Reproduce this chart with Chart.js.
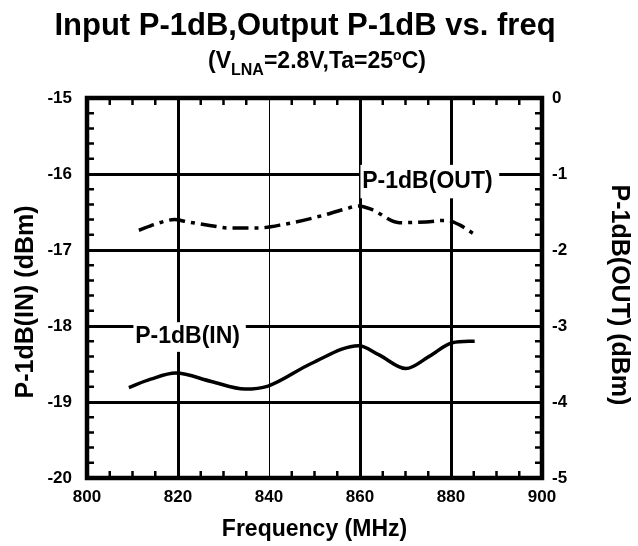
<!DOCTYPE html>
<html>
<head>
<meta charset="utf-8">
<script src="https://cdn.jsdelivr.net/npm/chart.js@4"></script>
<style>
	body { margin: 0; background: #fff; }
	#wrap { position: relative; width: 638px; height: 546px; font-family: "Liberation Sans", Arial, sans-serif; }
	.title { position: absolute; left: 0; width: 610px; text-align: center; font-weight: bold; color: #000; line-height: 1; white-space: nowrap; }
	#main { top: 9px; font-size: 31px; }
	#sub { top: 48px; left: 12px; font-size: 23px; }
	#sub sub { font-size: 16px; vertical-align: -7px; }
	#sub sup { font-size: 14px; vertical-align: 8px; }
</style>
</head>
<body>
<div id="wrap">
	<canvas id="chart" width="638" height="546"></canvas>
	<div class="title" id="main">Input P-1dB,Output P-1dB vs. freq</div>
	<div class="title" id="sub">(V<sub>LNA</sub>=2.8V,Ta=25<sup>o</sup>C)</div>
</div>
<script>
// P-1dB(IN), left axis (dBm)
const freqIn = [809.2, 814, 819.5, 827.3, 834.7, 839.8, 849.4, 859.7, 864.2, 870.1, 875.2, 880.3, 885.2];
const pIn = [-18.81, -18.70, -18.62, -18.73, -18.83, -18.79, -18.49, -18.26, -18.38, -18.56, -18.40, -18.22, -18.20];

// P-1dB(OUT), right axis (dBm)
const freqOut = [811.4, 815, 819.2, 822.1, 827.3, 831, 837.6, 843.5, 850.9, 856.8, 859.7, 862.7, 868.6, 874.5, 878.9, 881.9, 884.8];
const pOut = [-1.74, -1.66, -1.60, -1.63, -1.68, -1.71, -1.71, -1.66, -1.56, -1.46, -1.42, -1.47, -1.64, -1.63, -1.61, -1.67, -1.78];

const xTicks = [800, 820, 840, 860, 880, 900];

const FONT = "'Liberation Sans', Arial, sans-serif";

// curve labels, placed in data units
const curveLabels = [
	{ text: "P-1dB(OUT)", x: 860.5, y: -1.105, axis: "y2", box: [860.1, 890.6, -0.88, -1.32] },
	{ text: "P-1dB(IN)", x: 810.6, y: -18.145, axis: "y", box: [810.2, 834.9, -17.95, -18.34] }
];

function toPoints(xs, ys) {
	return xs.map((x, i) => ({ x: x, y: ys[i] }));
}

function sideTitle(c, text, x, y, rot) {
	c.save();
	c.translate(x, y);
	c.rotate(rot);
	c.fillStyle = "#000";
	c.font = "bold 25px " + FONT;
	c.textAlign = "center";
	c.textBaseline = "middle";
	c.fillText(text, 0, 0);
	c.restore();
}

const framePlugin = {
	id: "frame",
	afterDatasetsDraw(chart) {
		const c = chart.ctx;
		const xs = chart.scales.x;
		c.save();
		// white boxes behind the curve labels, then the text
		curveLabels.forEach(l => {
			const ys = chart.scales[l.axis];
			const x0 = xs.getPixelForValue(l.box[0]), x1 = xs.getPixelForValue(l.box[1]);
			const y0 = ys.getPixelForValue(l.box[2]), y1 = ys.getPixelForValue(l.box[3]);
			c.fillStyle = "#fff";
			c.fillRect(x0, y0, x1 - x0, y1 - y0);
			c.fillStyle = "#000";
			c.font = "bold 23px " + FONT;
			c.textBaseline = "middle";
			c.textAlign = "left";
			c.fillText(l.text, xs.getPixelForValue(l.x), ys.getPixelForValue(l.y));
		});
		c.restore();
	},
	afterDraw(chart) {
		const c = chart.ctx;
		const a = chart.chartArea;
		const xs = chart.scales.x, ys = chart.scales.y;
		c.save();
		c.strokeStyle = "#000";
		// inward minor ticks
		c.lineWidth = 2.5;
		c.beginPath();
		for (let f = 805; f < 900; f += 5) {
			if (f % 20 === 0) continue;
			const px = xs.getPixelForValue(f);
			c.moveTo(px, a.top); c.lineTo(px, a.top + 7);
			c.moveTo(px, a.bottom); c.lineTo(px, a.bottom - 7);
		}
		for (let v = -19.8; v < -15; v += 0.2) {
			if (Math.abs(v - Math.round(v)) < 0.01) continue;
			const py = ys.getPixelForValue(v);
			c.moveTo(a.left, py); c.lineTo(a.left + 7, py);
			c.moveTo(a.right, py); c.lineTo(a.right - 7, py);
		}
		c.stroke();
		c.lineWidth = 4.5;
		c.strokeRect(a.left, a.top, a.right - a.left, a.bottom - a.top);
		c.restore();
		sideTitle(c, "P-1dB(IN) (dBm)", 26, 302, -Math.PI / 2);
		sideTitle(c, "P-1dB(OUT) (dBm)", 619, 295, Math.PI / 2);
	}
};

new Chart(document.getElementById("chart"), {
	type: "line",
	data: {
		datasets: [
			{
				label: "P-1dB(IN)",
				data: toPoints(freqIn, pIn),
				yAxisID: "y",
				borderColor: "#000",
				borderWidth: 3.5,
				pointRadius: 0,
				cubicInterpolationMode: "monotone"
			},
			{
				label: "P-1dB(OUT)",
				data: toPoints(freqOut, pOut),
				yAxisID: "y2",
				borderColor: "#000",
				borderWidth: 3.5,
				borderDash: [16, 6, 4, 6],
				pointRadius: 0,
				cubicInterpolationMode: "monotone"
			}
		]
	},
	options: {
		responsive: false,
		animation: false,
		layout: { padding: { top: 98, left: 0, right: 0, bottom: 0 } },
		plugins: {
			legend: { display: false },
			tooltip: { enabled: false }
		},
		scales: {
			x: {
				type: "linear",
				min: 800,
				max: 900,
				afterBuildTicks: s => { s.ticks = xTicks.map(v => ({ value: v })); },
				afterFit: s => { s.height = 68; },
				grid: {
					color: "#000",
					lineWidth: ctx => (ctx.tick && ctx.tick.value === 840 ? 1 : 3),
					drawTicks: false
				},
				border: { display: false },
				ticks: { color: "#000", padding: 9, font: { family: FONT, size: 17, weight: "bold" } },
				title: {
					display: true,
					text: "Frequency (MHz)",
					color: "#000",
					padding: { top: 0, bottom: 3 },
					font: { family: FONT, size: 23, weight: "bold" }
				}
			},
			y: {
				position: "left",
				min: -20,
				max: -15,
				afterFit: s => { s.width = 87; },
				grid: { color: "#000", lineWidth: 3, drawTicks: false },
				border: { display: false },
				ticks: { stepSize: 1, color: "#000", padding: 15, font: { family: FONT, size: 17, weight: "bold" } }
			},
			y2: {
				position: "right",
				min: -5,
				max: 0,
				afterFit: s => { s.width = 96; },
				grid: { display: false, drawTicks: false },
				border: { display: false },
				ticks: { stepSize: 1, color: "#000", padding: 10, font: { family: FONT, size: 17, weight: "bold" } }
			}
		}
	},
	plugins: [framePlugin]
});
</script>
</body>
</html>
